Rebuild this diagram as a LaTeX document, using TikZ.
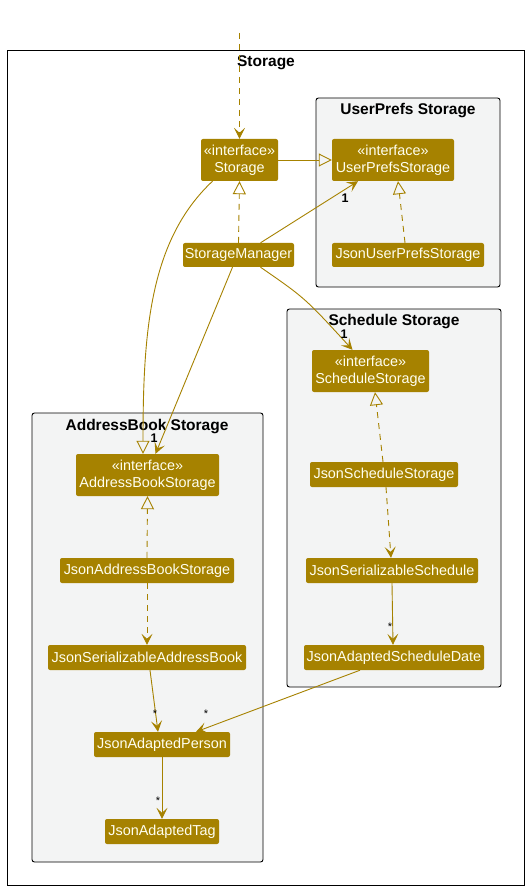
\documentclass[tikz,border=0pt]{standalone}
\usepackage{fontspec}
\setmainfont{Liberation Sans}
\usetikzlibrary{arrows.meta,calc}
\definecolor{cls}{RGB}{166,130,0}
\definecolor{edge}{RGB}{166,130,0}
\definecolor{pkg}{RGB}{243,244,244}
\definecolor{ctext}{RGB}{255,255,240}
\tikzset{
  cbox/.style={fill=cls, text=ctext, rounded corners=2pt, inner sep=0pt, align=center,
    font=\fontsize{14.4}{17}\selectfont},
  pkgbox/.style={draw=black, fill=pkg, line width=0.9pt, rounded corners=2.5pt},
  ptitle/.style={font=\bfseries\fontsize{15.5}{17}\selectfont, text=black, inner sep=0pt},
  mult/.style={font=\fontsize{11}{12}\selectfont, text=black, inner sep=0pt},
  multb/.style={font=\bfseries\fontsize{12.5}{13}\selectfont, text=black, inner sep=0pt},
  assoc/.style={draw=edge, line width=0.9pt, -{Stealth[length=11pt,width=11pt,inset=5pt]}},
  depend/.style={assoc, dash pattern=on 6pt off 5pt},
  gen/.style={draw=edge, line width=0.9pt, -{Triangle[open,length=13pt,width=13pt,fill=none]}},
  realz/.style={gen, dash pattern=on 6pt off 5pt},
}
\begin{document}
\begin{tikzpicture}[x=1pt,y=-1pt]
\useasboundingbox (0,0) rectangle (530,890);
% packages
\path[draw=black, fill=white, line width=0.9pt] (7,50) rectangle (524,885);
\node[ptitle] (tstorage) at (266,63) {Storage};
\path[pkgbox] (316,98) rectangle (500,287);
\node[ptitle] (tups) at (408,111) {UserPrefs Storage};
\path[pkgbox] (287,309) rectangle (501,687);
\node[ptitle] (tss) at (394,322) {Schedule Storage};
\path[pkgbox] (32,413) rectangle (263,862);
\node[ptitle] (tab) at (147,427) {AddressBook Storage};
% classes
\node[cbox, minimum width=77pt, minimum height=42pt] (storage) at (239.5,160) {«interface»\\Storage};
\node[cbox, minimum width=122pt, minimum height=42pt] (upi) at (393,160) {«interface»\\UserPrefsStorage};
\node[cbox, minimum width=152pt, minimum height=24pt] (jups) at (408,255) {JsonUserPrefsStorage};
\node[cbox, minimum width=111pt, minimum height=24pt] (sm) at (238.5,255) {StorageManager};
\node[cbox, minimum width=117pt, minimum height=42pt] (ssi) at (370.5,371) {«interface»\\ScheduleStorage};
\node[cbox, minimum width=148pt, minimum height=25pt] (jss) at (384,474.5) {JsonScheduleStorage};
\node[cbox, minimum width=172pt, minimum height=25pt] (jser) at (392,570.5) {JsonSerializableSchedule};
\node[cbox, minimum width=180pt, minimum height=25pt] (jasd) at (394,657.5) {JsonAdaptedScheduleDate};
\node[cbox, minimum width=143pt, minimum height=42pt] (abi) at (147.5,475) {«interface»\\AddressBookStorage};
\node[cbox, minimum width=174pt, minimum height=25pt] (jabs) at (147,570.5) {JsonAddressBookStorage};
\node[cbox, minimum width=198pt, minimum height=25pt] (jsab) at (147,657.5) {JsonSerializableAddressBook};
\node[cbox, minimum width=136pt, minimum height=25pt] (jap) at (162,744.5) {JsonAdaptedPerson};
\node[cbox, minimum width=114pt, minimum height=25pt] (jat) at (162,831.5) {JsonAdaptedTag};
% connectors
\coordinate (topin) at (239.5,33);
\draw[depend] (topin) -- (storage.north);
\draw[gen] (storage.east) -- (upi.west);
\draw[gen] ([xshift=-27pt]storage.south) .. controls (150,240) and (143,330) .. ([xshift=-4.5pt]abi.north);
\draw[realz] (sm.north) -- (storage.south);
\draw[assoc] ([xshift=22pt]sm.north) -- ([xshift=-35pt]upi.south);
\node[multb] (m1) at (345,198) {1};
\draw[assoc] ([xshift=-6pt]sm.south) -- ([xshift=8pt]abi.north);
\node[multb] (m2) at (154,438) {1};
\draw[assoc] ([xshift=22pt]sm.south) .. controls (305,298) .. ([xshift=-18pt]ssi.north);
\node[multb] (m3) at (344,334) {1};
\draw[realz] ([xshift=-3pt]jups.north) -- ([xshift=5pt]upi.south);
\draw[realz] ([xshift=-1pt]jss.north) -- ([xshift=4.5pt]ssi.south);
\draw[depend] ([xshift=2pt]jss.south) -- ([xshift=-1pt]jser.north);
\draw[assoc] (jser.south) -- ([xshift=-1pt]jasd.north);
\node[mult] (m4) at (390,627) {*};
\draw[assoc] ([xshift=-34pt]jasd.south) -- ([xshift=34pt]jap.north);
\node[mult] (m5) at (206,714) {*};
\draw[realz] (jabs.north) -- (abi.south);
\draw[depend] (jabs.south) -- (jsab.north);
\draw[assoc] ([xshift=3pt]jsab.south) -- ([xshift=-4pt]jap.north);
\node[mult] (m6) at (155,714) {*};
\draw[assoc] (jap.south) -- (jat.north);
\node[mult] (m7) at (158,801) {*};
\end{tikzpicture}
\end{document}
